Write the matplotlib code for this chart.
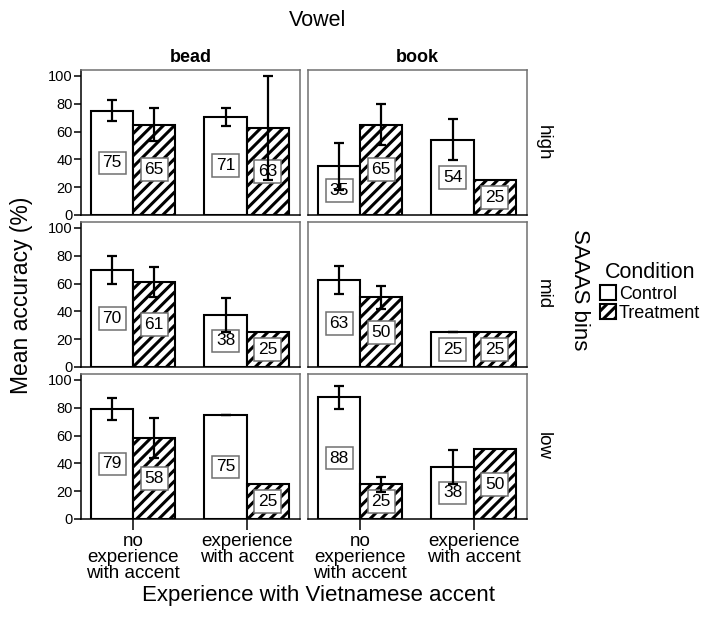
import numpy as np
import matplotlib
matplotlib.use('Agg')
from matplotlib import pyplot as plt
from matplotlib.patches import Patch

plt.rcParams['font.family'] = ['Liberation Sans', 'DejaVu Sans']
plt.rcParams['hatch.linewidth'] = 2.2

vowels = ['bead', 'book']
bins = ['high', 'mid', 'low']
groups = ['no\nexperience\nwith accent', 'experience\nwith accent']
conditions = ['Control', 'Treatment']

# means[bin][vowel] -> [no experience, experience]
control_mean = {
    'high': {'bead': [75, 70.8], 'book': [35, 54.2]},
    'mid': {'bead': [70, 37.5], 'book': [62.5, 25]},
    'low': {'bead': [79.2, 75], 'book': [87.5, 37.5]},
}
treat_mean = {
    'high': {'bead': [65, 62.5], 'book': [65, 25]},
    'mid': {'bead': [61, 25], 'book': [50, 25]},
    'low': {'bead': [58.3, 25], 'book': [25, 50]},
}
# error bar half widths (nan = none drawn)
control_err = {
    'high': {'bead': [7.7, 6.5], 'book': [17, 14.5]},
    'mid': {'bead': [10, 12], 'book': [10, 0]},
    'low': {'bead': [7.8, 0], 'book': [8.5, 12]},
}
treat_err = {
    'high': {'bead': [12, 37.5], 'book': [15, np.nan]},
    'mid': {'bead': [10.7, np.nan], 'book': [8, np.nan]},
    'low': {'bead': [14.6, np.nan], 'book': [5.4, np.nan]},
}

W, H = 705, 620
fig = plt.figure(figsize=(W / 100, H / 100), dpi=100)

col_left = [81, 308]
col_w = 219
row_bottom = [215, 367, 519]
row_h = 145
bw = 0.372
x = np.arange(len(groups))

for r, b in enumerate(bins):
    for c, v in enumerate(vowels):
        ax = fig.add_axes([col_left[c] / W, 1 - row_bottom[r] / H, col_w / W, row_h / H])
        cm = control_mean[b][v]
        tm = treat_mean[b][v]
        ax.bar(x - bw / 2, cm, bw, color='white', edgecolor='black', lw=1.5, zorder=2)
        ax.bar(x + bw / 2, tm, bw, color='white', edgecolor='black', hatch='///', lw=1.5, zorder=2)
        for xs, ms in [(x - bw / 2, cm), (x + bw / 2, tm)]:
            for xi, mi in zip(xs, ms):
                ax.text(xi, mi / 2, '%d' % int(mi + 0.5), ha='center', va='center', fontsize=12.5, zorder=3,
                        bbox=dict(boxstyle='square,pad=0.22', fc='white', ec='#707070', lw=1.1))
        ax.errorbar(x - bw / 2, cm, yerr=control_err[b][v], fmt='none', ecolor='black',
                    elinewidth=1.6, capsize=3.8, capthick=1.6, zorder=4)
        ax.errorbar(x + bw / 2, tm, yerr=treat_err[b][v], fmt='none', ecolor='black',
                    elinewidth=1.6, capsize=3.8, capthick=1.6, zorder=4)
        ax.set_xlim(-0.46, 1.47)
        ax.set_ylim(0, 104.3)
        for s in ax.spines.values():
            s.set_color('#707070')
            s.set_linewidth(1.1)
        ax.spines['bottom'].set_color('black')
        if c == 0:
            ax.spines['left'].set_color('black')
            ax.set_yticks([0, 20, 40, 60, 80, 100])
            ax.tick_params(axis='y', length=5, width=1.1, labelsize=10.5, pad=1)
        else:
            ax.set_yticks([])
        if r == len(bins) - 1:
            ax.set_xticks(x)
            ax.set_xticklabels(groups, fontsize=13.5, linespacing=0.92)
            ax.tick_params(axis='x', length=8, width=1.1, pad=2)
        else:
            ax.set_xticks([])
        if r == 0:
            ax.set_title(v, fontsize=13, fontweight='bold', pad=6)
        if c == 1:
            ax.text(1.075, 0.5, b, transform=ax.transAxes, rotation=270, ha='center', va='center', fontsize=13.5)

fig.text(318 / W, 1 - 20 / H, 'Vowel', ha='center', va='center', fontsize=15.5)
fig.text(22 / W, 1 - 295 / H, 'Mean accuracy (%)', rotation=90, ha='center', va='center', fontsize=16.5)
fig.text(318 / W, 1 - 595 / H, 'Experience with Vietnamese accent', ha='center', va='center', fontsize=16)
fig.text(579 / W, 1 - 290 / H, 'SAAAS bins', rotation=270, ha='center', va='center', fontsize=16)

handles = [Patch(facecolor='white', edgecolor='black', lw=1.5),
           Patch(facecolor='white', edgecolor='black', hatch='///', lw=1.5)]
leg = fig.legend(handles, conditions, title='Condition', loc='upper left',
                 bbox_to_anchor=(600 / W, 1 - 262 / H), frameon=False, fontsize=13,
                 title_fontsize=15.5, handlelength=0.9, handleheight=0.9,
                 handletextpad=0.15, labelspacing=0.1, borderpad=0, borderaxespad=0)

plt.savefig('out.png', dpi=100)
plt.close()
